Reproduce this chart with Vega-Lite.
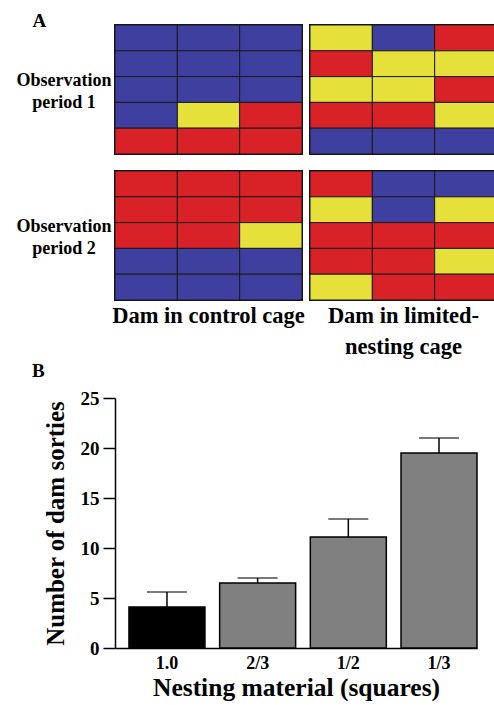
{
  "$schema": "https://vega.github.io/schema/vega-lite/v6.json",
  "background": "white",
  "padding": {"left": 16, "top": 11, "right": 0, "bottom": 0},
  "spacing": 3,
  "resolve": {"scale": {"color": "independent"}},
  "config": {
    "font": "Liberation Serif",
    "view": {"stroke": "#111111", "strokeWidth": 2},
    "title": {"font": "Liberation Serif", "color": "black"},
    "axis": {"labelFont": "Liberation Serif", "titleFont": "Liberation Serif"},
    "header": {"labelFont": "Liberation Serif", "labelColor": "black"}
  },
  "vconcat": [
    {
      "title": {"text": "A", "anchor": "start", "frame": "bounds", "fontSize": 19, "fontWeight": "bold", "dx": 16, "offset": -22, "baseline": "alphabetic"},
      "data": {"values": [
        {"period": 1, "cage": "control", "row": 1, "col": 1, "state": "on"},
        {"period": 1, "cage": "control", "row": 1, "col": 2, "state": "on"},
        {"period": 1, "cage": "control", "row": 1, "col": 3, "state": "on"},
        {"period": 1, "cage": "control", "row": 2, "col": 1, "state": "on"},
        {"period": 1, "cage": "control", "row": 2, "col": 2, "state": "on"},
        {"period": 1, "cage": "control", "row": 2, "col": 3, "state": "on"},
        {"period": 1, "cage": "control", "row": 3, "col": 1, "state": "on"},
        {"period": 1, "cage": "control", "row": 3, "col": 2, "state": "on"},
        {"period": 1, "cage": "control", "row": 3, "col": 3, "state": "on"},
        {"period": 1, "cage": "control", "row": 4, "col": 1, "state": "on"},
        {"period": 1, "cage": "control", "row": 4, "col": 2, "state": "mixed"},
        {"period": 1, "cage": "control", "row": 4, "col": 3, "state": "off"},
        {"period": 1, "cage": "control", "row": 5, "col": 1, "state": "off"},
        {"period": 1, "cage": "control", "row": 5, "col": 2, "state": "off"},
        {"period": 1, "cage": "control", "row": 5, "col": 3, "state": "off"},
        {"period": 1, "cage": "limited", "row": 1, "col": 1, "state": "mixed"},
        {"period": 1, "cage": "limited", "row": 1, "col": 2, "state": "on"},
        {"period": 1, "cage": "limited", "row": 1, "col": 3, "state": "off"},
        {"period": 1, "cage": "limited", "row": 2, "col": 1, "state": "off"},
        {"period": 1, "cage": "limited", "row": 2, "col": 2, "state": "mixed"},
        {"period": 1, "cage": "limited", "row": 2, "col": 3, "state": "mixed"},
        {"period": 1, "cage": "limited", "row": 3, "col": 1, "state": "mixed"},
        {"period": 1, "cage": "limited", "row": 3, "col": 2, "state": "mixed"},
        {"period": 1, "cage": "limited", "row": 3, "col": 3, "state": "off"},
        {"period": 1, "cage": "limited", "row": 4, "col": 1, "state": "off"},
        {"period": 1, "cage": "limited", "row": 4, "col": 2, "state": "off"},
        {"period": 1, "cage": "limited", "row": 4, "col": 3, "state": "mixed"},
        {"period": 1, "cage": "limited", "row": 5, "col": 1, "state": "on"},
        {"period": 1, "cage": "limited", "row": 5, "col": 2, "state": "on"},
        {"period": 1, "cage": "limited", "row": 5, "col": 3, "state": "on"},
        {"period": 2, "cage": "control", "row": 1, "col": 1, "state": "off"},
        {"period": 2, "cage": "control", "row": 1, "col": 2, "state": "off"},
        {"period": 2, "cage": "control", "row": 1, "col": 3, "state": "off"},
        {"period": 2, "cage": "control", "row": 2, "col": 1, "state": "off"},
        {"period": 2, "cage": "control", "row": 2, "col": 2, "state": "off"},
        {"period": 2, "cage": "control", "row": 2, "col": 3, "state": "off"},
        {"period": 2, "cage": "control", "row": 3, "col": 1, "state": "off"},
        {"period": 2, "cage": "control", "row": 3, "col": 2, "state": "off"},
        {"period": 2, "cage": "control", "row": 3, "col": 3, "state": "mixed"},
        {"period": 2, "cage": "control", "row": 4, "col": 1, "state": "on"},
        {"period": 2, "cage": "control", "row": 4, "col": 2, "state": "on"},
        {"period": 2, "cage": "control", "row": 4, "col": 3, "state": "on"},
        {"period": 2, "cage": "control", "row": 5, "col": 1, "state": "on"},
        {"period": 2, "cage": "control", "row": 5, "col": 2, "state": "on"},
        {"period": 2, "cage": "control", "row": 5, "col": 3, "state": "on"},
        {"period": 2, "cage": "limited", "row": 1, "col": 1, "state": "off"},
        {"period": 2, "cage": "limited", "row": 1, "col": 2, "state": "on"},
        {"period": 2, "cage": "limited", "row": 1, "col": 3, "state": "on"},
        {"period": 2, "cage": "limited", "row": 2, "col": 1, "state": "mixed"},
        {"period": 2, "cage": "limited", "row": 2, "col": 2, "state": "on"},
        {"period": 2, "cage": "limited", "row": 2, "col": 3, "state": "mixed"},
        {"period": 2, "cage": "limited", "row": 3, "col": 1, "state": "off"},
        {"period": 2, "cage": "limited", "row": 3, "col": 2, "state": "off"},
        {"period": 2, "cage": "limited", "row": 3, "col": 3, "state": "off"},
        {"period": 2, "cage": "limited", "row": 4, "col": 1, "state": "off"},
        {"period": 2, "cage": "limited", "row": 4, "col": 2, "state": "off"},
        {"period": 2, "cage": "limited", "row": 4, "col": 3, "state": "mixed"},
        {"period": 2, "cage": "limited", "row": 5, "col": 1, "state": "mixed"},
        {"period": 2, "cage": "limited", "row": 5, "col": 2, "state": "off"},
        {"period": 2, "cage": "limited", "row": 5, "col": 3, "state": "off"}
      ]},
      "facet": {
        "row": {"field": "period", "type": "ordinal", "title": null,
          "header": {"labelOrient": "left", "labelAngle": 0, "labelAlign": "center", "labelBaseline": "bottom", "labelPadding": -46, "labelFontSize": 18, "labelFontWeight": "bold", "labelLineHeight": 22, "labelExpr": "['Observation', 'period ' + datum.value]"}},
        "column": {"field": "cage", "type": "nominal", "title": null,
          "header": {"labelOrient": "bottom", "labelFontSize": 22.5, "labelFontWeight": "bold", "labelLineHeight": 31, "labelPadding": 3, "labelExpr": "datum.value == 'control' ? 'Dam in control cage' : ['Dam in limited-', 'nesting cage']"}}
      },
      "spacing": {"row": 13, "column": 4},
      "spec": {
        "width": 187,
        "height": 129,
        "mark": {"type": "rect", "stroke": "#1a1a1a", "strokeWidth": 1},
        "encoding": {
          "x": {"field": "col", "type": "ordinal", "axis": null, "scale": {"paddingInner": 0, "paddingOuter": 0}},
          "y": {"field": "row", "type": "ordinal", "axis": null, "scale": {"paddingInner": 0, "paddingOuter": 0}},
          "color": {"field": "state", "type": "nominal", "legend": null,
            "scale": {"domain": ["on", "off", "mixed"], "range": ["#3f3f9f", "#d92128", "#e6e03a"]}}
        }
      }
    },
    {
      "title": {"text": "B", "anchor": "start", "frame": "group", "dx": -83, "offset": 8, "fontSize": 19, "fontWeight": "bold"},
      "width": 362,
      "height": 250,
      "view": {"stroke": null},
      "data": {"values": [
        {"material": "1.0", "sorties": 4.1, "upper": 5.6, "condition": "control"},
        {"material": "2/3", "sorties": 6.5, "upper": 7.0, "condition": "limited"},
        {"material": "1/2", "sorties": 11.1, "upper": 12.9, "condition": "limited"},
        {"material": "1/3", "sorties": 19.5, "upper": 21.0, "condition": "limited"}
      ]},
      "encoding": {
        "x": {"field": "material", "type": "nominal", "sort": null,
          "scale": {"paddingInner": 0.162, "paddingOuter": 0.077, "align": 1},
          "axis": {"title": "Nesting material (squares)", "labelAngle": 0, "ticks": false, "domainColor": "black", "domainWidth": 1.5, "labelFontSize": 18, "labelFontWeight": "bold", "labelColor": "black", "labelPadding": 6, "titleFontSize": 25.5, "titleFontWeight": "bold", "titleColor": "black", "titlePadding": 3}}
      },
      "layer": [
        {
          "mark": {"type": "bar", "stroke": "black", "strokeWidth": 1.5},
          "encoding": {
            "y": {"field": "sorties", "type": "quantitative", "title": "Number of dam sorties",
              "scale": {"domain": [0, 25], "nice": false},
              "axis": {"values": [0, 5, 10, 15, 20, 25], "grid": false, "domainColor": "black", "domainWidth": 1.5, "tickColor": "black", "tickWidth": 1.5, "tickSize": 12, "labelFontSize": 19, "labelFontWeight": "bold", "labelColor": "black", "labelPadding": 4, "titleFontSize": 25, "titleFontWeight": "bold", "titleColor": "black", "titlePadding": 12}},
            "color": {"field": "condition", "type": "nominal", "legend": null,
              "scale": {"domain": ["control", "limited"], "range": ["black", "#808080"]}}
          }
        },
        {
          "mark": {"type": "rule", "stroke": "black", "strokeWidth": 1.5},
          "encoding": {
            "y": {"field": "sorties", "type": "quantitative", "title": "Number of dam sorties"},
            "y2": {"field": "upper"}
          }
        },
        {
          "mark": {"type": "tick", "color": "black", "size": 40, "thickness": 1.5},
          "encoding": {
            "y": {"field": "upper", "type": "quantitative", "title": "Number of dam sorties"}
          }
        }
      ]
    }
  ]
}
